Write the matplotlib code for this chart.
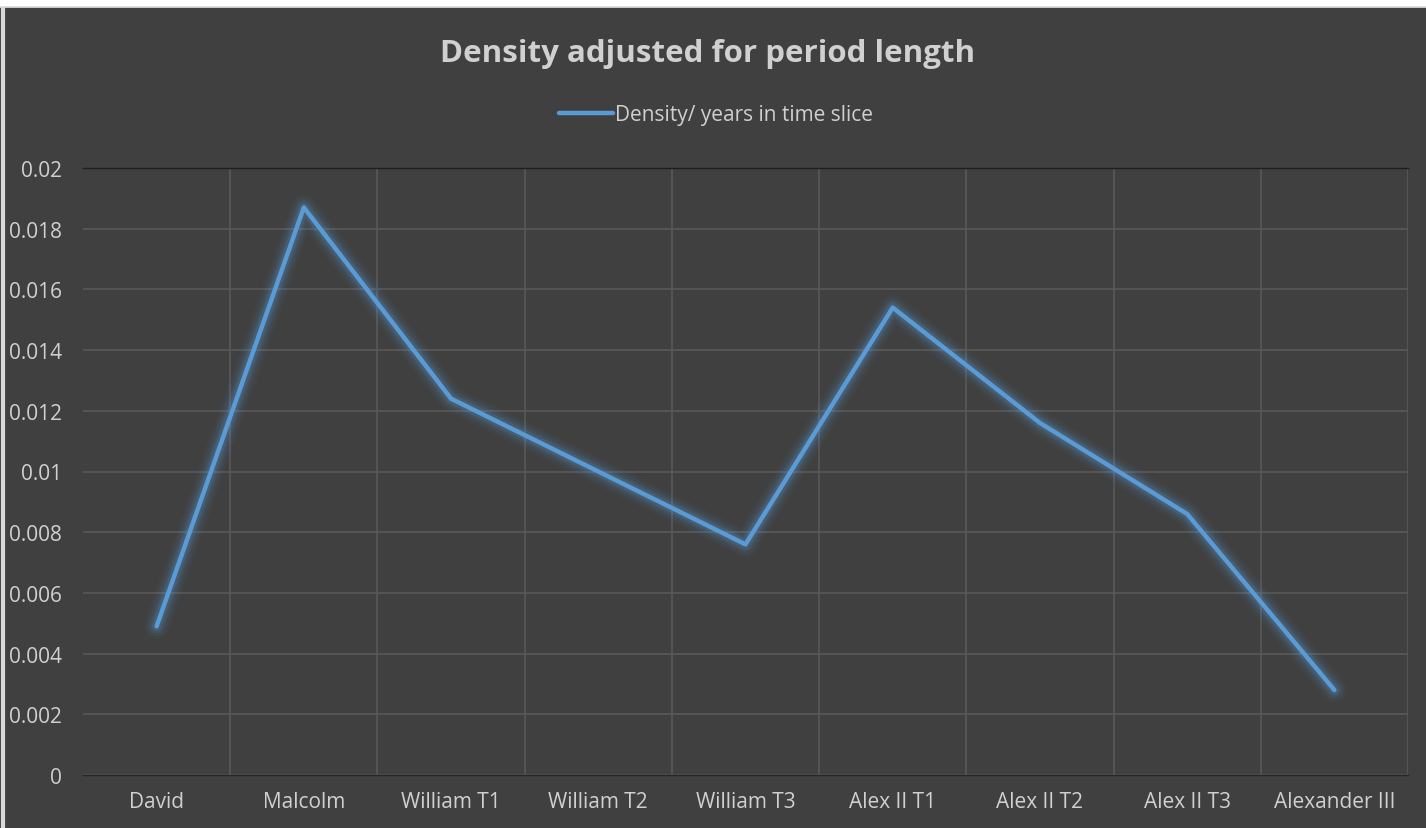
import matplotlib.pyplot as plt
from matplotlib.lines import Line2D

categories = ['David', 'Malcolm', 'William T1', 'William T2', 'William T3',
              'Alex II T1', 'Alex II T2', 'Alex II T3', 'Alexander III']
density = [0.0049, 0.0187, 0.0124, 0.0100, 0.0076, 0.0154, 0.0116, 0.0086, 0.0028]
y_ticks = [0, 0.002, 0.004, 0.006, 0.008, 0.01, 0.012, 0.014, 0.016, 0.018, 0.02]
y_labels = ['0', '0.002', '0.004', '0.006', '0.008', '0.01', '0.012', '0.014',
            '0.016', '0.018', '0.02']

bg = '#404040'
text_col = '#d0d0d0'
grid_col = '#595959'
line_col = '#5b9bd5'

plt.rcParams['font.family'] = ['Open Sans', 'DejaVu Sans']

fig = plt.figure(figsize=(14.26, 8.29), dpi=100)
fig.patch.set_facecolor(bg)
ax = fig.add_axes([83 / 1426, 1 - 776 / 829, (1408 - 83) / 1426, (776 - 169) / 829])
ax.set_facecolor(bg)

x = list(range(len(categories)))

# glow around the line
for w, a in [(18, 0.05), (14, 0.07), (10, 0.11), (7, 0.17)]:
    ax.plot(x, density, color=line_col, linewidth=w, alpha=a,
            solid_capstyle='round', solid_joinstyle='round')
ax.plot(x, density, color=line_col, linewidth=3.2,
        solid_capstyle='round', solid_joinstyle='round')

ax.set_xlim(-0.5, len(categories) - 0.5)
ax.set_ylim(0, 0.02)
ax.set_yticks(y_ticks)
ax.set_yticklabels(y_labels)
ax.set_xticks(x)
ax.set_xticklabels(categories)

ax.set_xticks([i + 0.5 for i in x], minor=True)
ax.grid(True, axis='y', color=grid_col, linewidth=1.2)
ax.grid(True, axis='x', which='minor', color=grid_col, linewidth=1.2)
ax.set_axisbelow(True)

ax.tick_params(axis='both', which='both', length=0, colors=text_col, labelsize=15)
ax.tick_params(axis='x', pad=11.5)
ax.tick_params(axis='y', pad=15)

for s in ['left', 'right']:
    ax.spines[s].set_visible(False)
ax.spines['top'].set_color('#1e1e1e')
ax.spines['top'].set_linewidth(1.0)
ax.spines['bottom'].set_color('#262626')
ax.spines['bottom'].set_linewidth(1.0)

fig.text(708 / 1426, 1 - 54 / 829, 'Density adjusted for period length',
         ha='center', va='center', fontsize=22.5, fontweight='bold', color=text_col)

handle = Line2D([0], [0], color=line_col, linewidth=3.2, solid_capstyle='round')
fig.legend([handle], ['Density/ years in time slice'], loc='center',
           bbox_to_anchor=(716 / 1426, 1 - 116 / 829), frameon=False,
           fontsize=15, labelcolor=text_col, handlelength=2.6, handletextpad=0.1)

# light border at top and left edges as in the screenshot
fig.add_artist(Line2D([0, 1], [1 - 7 / 829, 1 - 7 / 829], transform=fig.transFigure,
                      color='#d9d9d9', linewidth=2))
fig.add_artist(Line2D([3 / 1426, 3 / 1426], [0, 1 - 7 / 829], transform=fig.transFigure,
                      color='#d9d9d9', linewidth=3))
fig.add_artist(Line2D([0, 1], [1 - 3 / 829, 1 - 3 / 829], transform=fig.transFigure,
                      color='white', linewidth=6))

fig.savefig('out.png', dpi=100, facecolor=bg)
